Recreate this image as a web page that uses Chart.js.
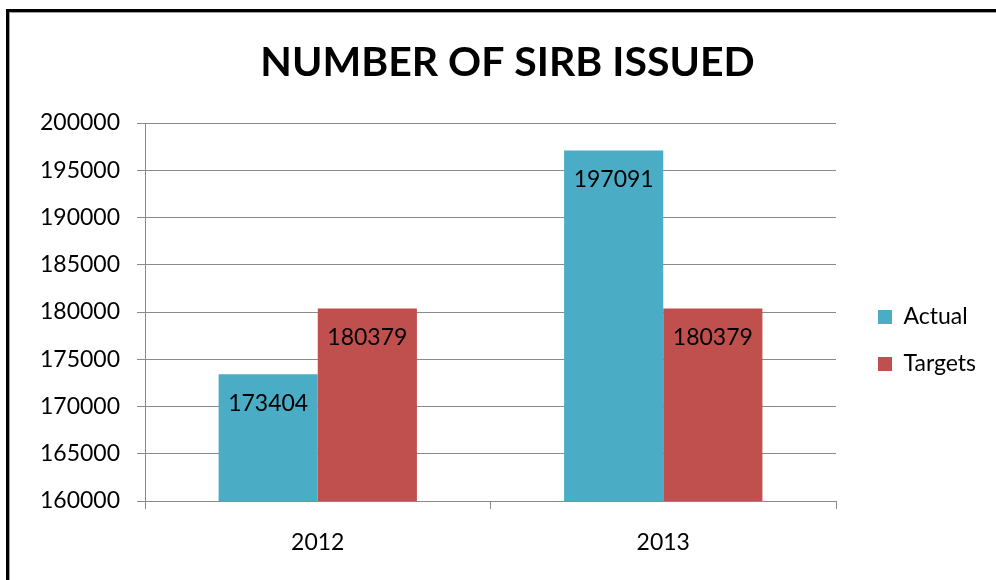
<!DOCTYPE html>
<html><head><meta charset="utf-8">
<script src="https://cdn.jsdelivr.net/npm/chart.js@4.4.0/dist/chart.umd.min.js"></script>
<style>
html,body{margin:0;padding:0;background:#fff;width:996px;height:580px;overflow:hidden}
#frame{position:absolute;left:6px;top:9px;width:1100px;height:700px;border-left:3px solid #000;border-top:3px solid #000}
#frame div{position:absolute;left:0;top:0;right:0;bottom:0;border-left:1px solid #a0a0a0;border-top:1px solid #a0a0a0}
#c{position:absolute;left:0;top:0}
</style></head><body>
<div id="frame"><div></div></div>
<canvas id="c" width="996" height="580"></canvas>
<script>
const categories = ['2012', '2013'];
const seriesNames = ['Actual', 'Targets'];
const actualValues = [173404, 197091];
const targetValues = [180379, 180379];
const yTicks = [160000, 165000, 170000, 175000, 180000, 185000, 190000, 195000, 200000];
const titleText = 'NUMBER OF SIRB ISSUED';
const colors = ['#4BACC6', '#C0504D'];

const FONT = 'Lato';
const fs = 23;
const legPad = 24, boxW = 14;
const m = document.createElement('canvas').getContext('2d');
m.font = fs + 'px ' + FONT;
const tw = Math.max(...seriesNames.map(s => m.measureText(s).width));
const legendW = legPad + boxW + fs / 2 + tw + 10;
const legendLeft = 878 - legPad;
const pr = Math.max(0, 996 - legendLeft - legendW);
const pl = 19 + pr;
const grid = '#8a8a8a';

const dataLabels = {
  id: 'dataLabels',
  afterDatasetsDraw(chart) {
    const ctx = chart.ctx;
    ctx.save();
    ctx.font = fs + 'px ' + FONT;
    ctx.fillStyle = '#000';
    ctx.textAlign = 'center';
    ctx.textBaseline = 'middle';
    chart.data.datasets.forEach((ds, i) => {
      chart.getDatasetMeta(i).data.forEach((bar, j) => {
        ctx.fillText(String(ds.data[j]), bar.x, bar.y + 29);
      });
    });
    ctx.restore();
  }
};

new Chart(document.getElementById('c'), {
  type: 'bar',
  data: {
    labels: categories,
    datasets: [
      { label: seriesNames[0], data: actualValues, backgroundColor: colors[0], borderWidth: 0 },
      { label: seriesNames[1], data: targetValues, backgroundColor: colors[1], borderWidth: 0 }
    ]
  },
  options: {
    responsive: false,
    animation: false,
    layout: { padding: { top: 10, left: pl, right: pr, bottom: 0 } },
    categoryPercentage: 0.574,
    barPercentage: 1,
    plugins: {
      tooltip: { enabled: false },
      title: {
        display: true, text: titleText, color: '#000',
        font: { family: FONT, size: 41, weight: 'bold' },
        padding: { top: 28.2, bottom: 35.6 }
      },
      legend: {
        display: true, position: 'right', align: 'start',
        title: { display: true, text: ' ', font: { size: 1 }, padding: { top: 270.3, bottom: 0 } },
        labels: {
          boxWidth: boxW, boxHeight: boxW, padding: legPad, color: '#000',
          font: { family: FONT, size: fs }
        }
      }
    },
    scales: {
      x: {
        grid: { display: true, offset: true, drawOnChartArea: false, drawTicks: true, tickLength: 8, color: grid },
        border: { display: true, color: grid },
        ticks: { color: '#000', padding: 20, font: { family: FONT, size: fs } },
        afterFit(s) { s.height = 79; }
      },
      y: {
        min: yTicks[0], max: yTicks[yTicks.length - 1],
        afterBuildTicks(s) { s.ticks = yTicks.map(v => ({ value: v })); },
        grid: { color: grid, drawTicks: true, tickLength: 8 },
        border: { display: true, color: grid },
        ticks: { color: '#000', padding: 17, font: { family: FONT, size: fs }, callback: v => String(v) },
        afterFit(s) { s.width = 145 - pl; }
      },
      y2: {
        position: 'right', display: true,
        grid: { display: false }, border: { display: false },
        ticks: { display: false },
        afterFit(s) { s.width = 18; }
      }
    }
  },
  plugins: [dataLabels]
});
</script>
</body></html>
